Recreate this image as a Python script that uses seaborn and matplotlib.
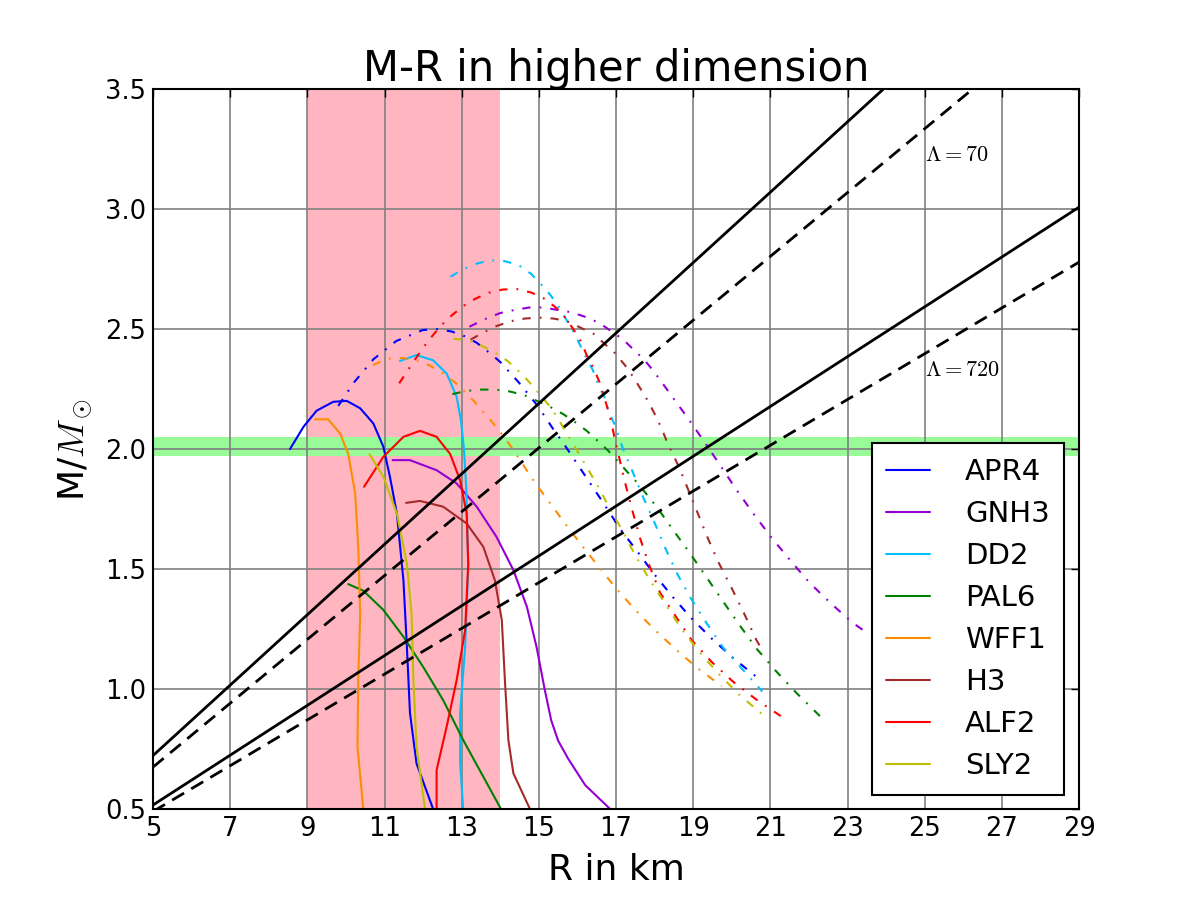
import numpy as np
import matplotlib
matplotlib.use("Agg")
import matplotlib.pyplot as plt
import seaborn as sns

sns.set_style("white")
plt.rcParams['font.family'] = ['DejaVu Sans']
plt.rcParams['mathtext.fontset'] = 'cm'
plt.rcParams['xtick.direction'] = 'in'
plt.rcParams['ytick.direction'] = 'in'
for key in ['text.color', 'axes.labelcolor', 'xtick.color', 'ytick.color']:
    plt.rcParams[key] = 'black'

# equations of state, solid = GR, dash-dot = higher dimension
names = ['APR4', 'GNH3', 'DD2', 'PAL6', 'WFF1', 'H3', 'ALF2', 'SLY2']
colors = ['#0000ff', 'darkviolet', 'deepskyblue', 'green', 'darkorange', 'brown', 'red', '#bfbf00']

apr4_R = [8.55, 8.90, 9.24, 9.67, 10.02, 10.37, 10.71, 10.97, 11.14, 11.32, 11.49, 11.58, 11.66, 11.83, 12.26]
apr4_M = [2.00, 2.093, 2.16, 2.197, 2.201, 2.17, 2.107, 2.01, 1.885, 1.732, 1.454, 1.176, 0.90, 0.69, 0.50]
apr4_hd_R = [9.80, 10.22, 10.71, 11.30, 11.99, 12.37, 12.74, 13.08, 13.39, 13.73, 14.0, 14.49, 14.99, 15.39,
             15.63, 16.67, 17.10, 17.54, 17.99, 18.47, 18.96, 19.51, 20.07, 20.64, 20.78]
apr4_hd_M = [2.18, 2.28, 2.374, 2.45, 2.496, 2.50, 2.49, 2.47, 2.443, 2.40, 2.363, 2.276, 2.176, 2.079,
             2.026, 1.776, 1.669, 1.576, 1.479, 1.384, 1.294, 1.206, 1.125, 1.051, 1.035]

gnh3_R = [11.21, 11.66, 12.35, 12.87, 13.39, 13.90, 14.34, 14.69, 14.94, 15.15, 15.32, 15.50, 15.76, 16.2, 16.85]
gnh3_M = [1.954, 1.954, 1.912, 1.857, 1.76, 1.635, 1.496, 1.343, 1.176, 1.0, 0.87, 0.785, 0.71, 0.60, 0.5]
gnh3_hd_R = [13.2, 13.64, 14.0, 14.38, 14.75, 15.11, 15.48, 15.85, 16.22, 16.56, 16.89, 17.19, 17.45, 17.72,
             17.97, 18.41, 18.87, 19.30, 19.71, 20.14, 20.58, 21.03, 21.51, 22.01, 22.55, 23.11, 23.48]
gnh3_hd_M = [2.51, 2.544, 2.567, 2.58, 2.59, 2.59, 2.58, 2.57, 2.55, 2.526, 2.49, 2.456, 2.415, 2.374,
             2.326, 2.229, 2.127, 2.028, 1.93, 1.826, 1.727, 1.631, 1.5375, 1.444, 1.36, 1.279, 1.237]

dd2_R = [11.40, 11.83, 12.26, 12.61, 12.87, 12.98, 13.06, 13.12, 13.17, 13.09, 12.96, 12.96, 13.04]
dd2_M = [2.367, 2.392, 2.37, 2.315, 2.218, 2.12, 2.0, 1.83, 1.51, 1.176, 0.90, 0.69, 0.50]
dd2_hd_R = [12.71, 13.04, 13.39, 13.75, 14.12, 14.47, 14.80, 15.06, 15.31, 15.53, 15.72, 15.91, 16.07, 16.24,
            16.40, 16.54, 16.70, 16.83, 16.97, 17.10, 17.23, 17.38, 17.66, 17.97, 18.27, 18.59, 18.94, 19.35,
            19.78, 20.28, 20.79]
dd2_hd_M = [2.718, 2.75, 2.773, 2.787, 2.783, 2.767, 2.73, 2.686, 2.64, 2.59, 2.537, 2.486, 2.433, 2.377,
            2.329, 2.267, 2.218, 2.15, 2.10, 2.0375, 1.98, 1.926, 1.815, 1.704, 1.59, 1.479, 1.378, 1.274,
            1.172, 1.082, 0.99]

pal6_R = [10.06, 10.45, 10.97, 11.49, 12.0, 12.52, 13.04, 13.56, 14.02]
pal6_M = [1.4375, 1.41, 1.33, 1.218, 1.093, 0.954, 0.7875, 0.635, 0.50]
pal6_hd_R = [12.76, 13.10, 13.50, 13.88, 14.25, 14.62, 15.29, 15.63, 15.96, 16.25, 16.52, 16.80, 17.06, 17.32,
             17.55, 17.79, 18.04, 18.47, 18.92, 19.35, 19.78, 20.20, 20.64, 21.14, 21.67, 22.3]
pal6_hd_M = [2.229, 2.242, 2.248, 2.248, 2.24, 2.225, 2.176, 2.146, 2.11, 2.075, 2.035, 1.993, 1.947, 1.90,
             1.86, 1.8125, 1.7625, 1.665, 1.565, 1.465, 1.364, 1.267, 1.169, 1.076, 0.985, 0.885]

wff1_R = [9.20, 9.54, 9.85, 10.06, 10.24, 10.32, 10.37, 10.32, 10.30, 10.45]
wff1_M = [2.124, 2.124, 2.065, 1.98, 1.815, 1.593, 1.315, 1.0375, 0.76, 0.50]
wff1_hd_R = [10.7, 11.06, 11.40, 11.79, 12.15, 12.48, 12.78, 13.06, 13.32, 13.56, 13.82, 14.05, 14.27, 14.90,
             15.55, 16.02, 16.50, 16.97, 17.48, 18.01, 18.57, 19.13, 19.74]
wff1_hd_M = [2.35, 2.376, 2.38, 2.373, 2.35, 2.32, 2.284, 2.242, 2.20, 2.155, 2.107, 2.06, 2.0125, 1.86,
             1.718, 1.618, 1.52, 1.426, 1.333, 1.246, 1.1625, 1.085, 1.0125]

h3_R = [11.56, 11.92, 12.52, 13.13, 13.56, 13.86, 14.04, 14.12, 14.21, 14.34, 14.77]
h3_M = [1.776, 1.784, 1.76, 1.69, 1.593, 1.454, 1.2875, 1.0375, 0.7875, 0.649, 0.50]
h3_hd_R = [13.23, 13.56, 13.90, 14.27, 14.64, 15.01, 15.37, 15.72, 16.08, 16.43, 16.71, 16.97, 17.23, 17.45,
           17.64, 17.84, 18.01, 18.17, 18.31, 18.47, 18.63, 18.79, 19.07, 19.35, 19.65, 20.0, 20.32, 20.64, 20.8]
h3_hd_M = [2.456, 2.486, 2.5125, 2.533, 2.544, 2.548, 2.544, 2.534, 2.506, 2.479, 2.4375, 2.40, 2.35, 2.30,
           2.25, 2.197, 2.144, 2.09, 2.035, 1.98, 1.926, 1.863, 1.752, 1.64, 1.53, 1.42, 1.315, 1.204, 1.16]

alf2_R = [10.47, 10.97, 11.49, 11.92, 12.35, 12.70, 12.96, 13.13, 13.17, 13.09, 12.87, 12.61, 12.35, 12.35]
alf2_M = [1.843, 1.968, 2.051, 2.076, 2.051, 1.98, 1.87, 1.73, 1.523, 1.246, 1.0375, 0.843, 0.6625, 0.50]
alf2_hd_R = [11.38, 11.57, 11.79, 11.99, 12.23, 12.48, 12.75, 13.04, 13.36, 13.71, 14.07, 14.42, 14.81, 15.14,
             15.48, 15.72, 15.91, 16.11, 16.25, 16.43, 16.57, 16.69, 16.78, 16.89, 16.97, 17.06, 17.23, 17.42,
             17.62, 17.86, 18.14, 18.56, 18.96, 19.48, 20.04, 20.64, 21.27]
alf2_hd_M = [2.274, 2.32, 2.373, 2.42, 2.47, 2.517, 2.558, 2.596, 2.627, 2.652, 2.665, 2.667, 2.652, 2.627,
             2.585, 2.54, 2.496, 2.443, 2.3875, 2.333, 2.28, 2.221, 2.169, 2.104, 2.04, 1.98, 1.863, 1.746,
             1.63, 1.517, 1.402, 1.30, 1.204, 1.113, 1.03, 0.956, 0.8875]

sly2_R = [10.61, 10.97, 11.32, 11.58, 11.70, 11.75, 11.83, 12.05]
sly2_M = [1.979, 1.885, 1.732, 1.523, 1.315, 1.0375, 0.76, 0.50]
sly2_hd_R = [12.78, 13.17, 13.53, 13.88, 14.19, 14.47, 14.73, 14.99, 15.25, 15.46, 15.63, 15.83, 16.59, 16.78,
             17.14, 17.49, 17.88, 18.29, 18.70, 19.16, 19.65, 20.19, 20.77]
sly2_hd_M = [2.46, 2.454, 2.43, 2.40, 2.367, 2.326, 2.283, 2.234, 2.185, 2.138, 2.09, 2.0375, 1.829, 1.77,
             1.667, 1.56, 1.454, 1.352, 1.25, 1.155, 1.065, 0.977, 0.898]

solid_curves = [(apr4_R, apr4_M), (gnh3_R, gnh3_M), (dd2_R, dd2_M), (pal6_R, pal6_M),
                (wff1_R, wff1_M), (h3_R, h3_M), (alf2_R, alf2_M), (sly2_R, sly2_M)]
hd_curves = [(apr4_hd_R, apr4_hd_M), (gnh3_hd_R, gnh3_hd_M), (dd2_hd_R, dd2_hd_M), (pal6_hd_R, pal6_hd_M),
             (wff1_hd_R, wff1_hd_M), (h3_hd_R, h3_hd_M), (alf2_hd_R, alf2_hd_M), (sly2_hd_R, sly2_hd_M)]

# Lambda bound lines (endpoints at R=5 and R=29)
bound_R = [5, 29]
lam70_M = [0.723, 4.244]
lam70_hd_M = [0.675, 3.867]
lam720_M = [0.517, 3.008]
lam720_hd_M = [0.49, 2.779]

# shaded regions
radius_band = (9, 14)
mass_band = (1.97, 2.05)

fig = plt.figure(figsize=(12, 9), dpi=100)
ax = fig.add_axes([0.1275, 0.101, 0.7717, 0.8])

ax.axvspan(*radius_band, color='lightpink', zorder=0, lw=0)
ax.axhspan(*mass_band, color='palegreen', zorder=0, lw=0)

for (r, m), name, c in zip(solid_curves, names, colors):
    sns.lineplot(x=r, y=m, sort=False, estimator=None, color=c, lw=1.5, label=name, ax=ax)

for (r, m), c in zip(hd_curves, colors):
    sns.lineplot(x=r, y=m, sort=False, estimator=None, color=c, lw=1.5,
                 linestyle=(0, (4, 4.3, 0.9, 4.3)), legend=False, ax=ax)

sns.lineplot(x=bound_R, y=lam70_M, color='k', lw=2, ax=ax, legend=False)
sns.lineplot(x=bound_R, y=lam70_hd_M, color='k', lw=2, linestyle=(0, (5, 3)), ax=ax, legend=False)
sns.lineplot(x=bound_R, y=lam720_M, color='k', lw=2, ax=ax, legend=False)
sns.lineplot(x=bound_R, y=lam720_hd_M, color='k', lw=2, linestyle=(0, (5, 3)), ax=ax, legend=False)

ax.text(25.0, 3.225, r'$\Lambda = 70$', fontsize=16, va='center', ha='left')
ax.text(25.0, 2.33, r'$\Lambda = 720$', fontsize=16, va='center', ha='left')

ax.set_xlim(5, 29)
ax.set_ylim(0.5, 3.5)
ax.set_xticks(np.arange(5, 30, 2))
ax.set_yticks(np.arange(0.5, 3.51, 0.5))
ax.tick_params(labelsize=18.5, top=True, right=True, length=6, width=1, color='k', pad=5)
ax.set_axisbelow(True)
ax.grid(True, color='0.5', lw=1.2)
for s in ax.spines.values():
    s.set_color('k')
    s.set_linewidth(1.5)

ax.set_title('M-R in higher dimension', fontsize=30)
ax.set_xlabel('R in km', fontsize=26, labelpad=8)
ax.set_ylabel(r'M/$M_\odot$', fontsize=26, labelpad=8)

leg = ax.legend(loc='lower right', fontsize=21, handlelength=1.5, labelspacing=0.48,
                borderpad=0.5, handletextpad=1.2, fancybox=False, framealpha=1)
leg.get_frame().set_edgecolor('k')
leg.get_frame().set_linewidth(1.5)

fig.savefig('out.png', dpi=100)
